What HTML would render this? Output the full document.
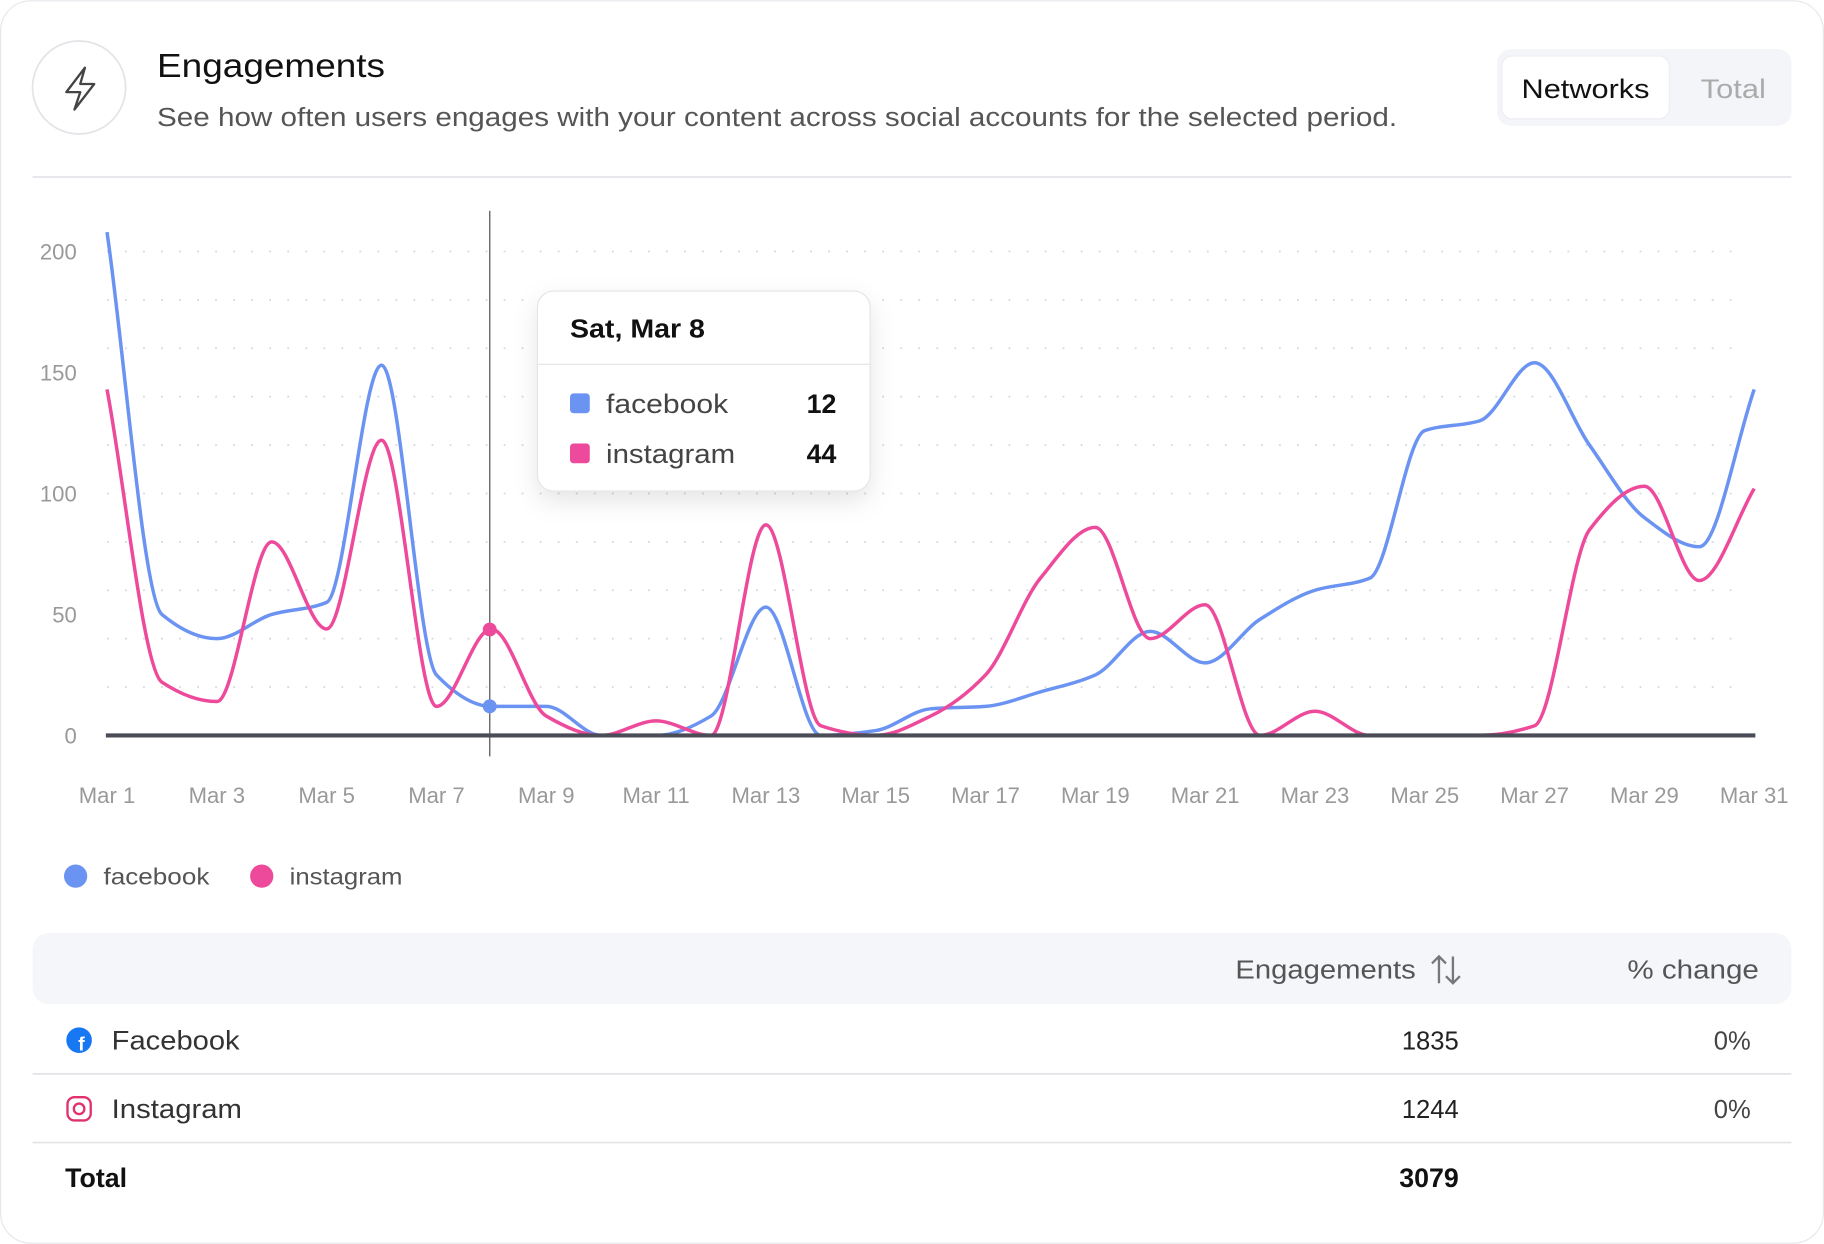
<!DOCTYPE html>
<html><head><meta charset="utf-8"><style>
html,body{margin:0;padding:0;background:#fff;}
svg{display:block;font-family:"Liberation Sans",sans-serif;}
</style></head><body>
<svg id="s" width="1824" height="1244" viewBox="0 0 1568 1069" xmlns="http://www.w3.org/2000/svg">
<rect x="0.5" y="0.5" width="1567" height="1068" rx="26" fill="#fff" stroke="#e6e7eb"/>
<circle cx="68" cy="75" r="40" fill="#fff" stroke="#e3e4e8" stroke-width="1.5"/>
<path d="M73 58 L57 79 H69 L64 94 L81 72 H69 Z" fill="none" stroke="#444" stroke-width="2" stroke-linejoin="round"/>
<text x="135" y="66" font-size="29" fill="#111" textLength="196" lengthAdjust="spacingAndGlyphs">Engagements</text>
<text x="135" y="108" font-size="22" fill="#555" textLength="1066" lengthAdjust="spacingAndGlyphs">See how often users engages with your content across social accounts for the selected period.</text>
<rect x="1287" y="42" width="253" height="66" rx="12" fill="#f4f5f8"/>
<rect x="1291" y="48" width="144" height="54" rx="9" fill="#fff" stroke="#eceef2"/>
<text x="1308" y="84" font-size="23" fill="#111" textLength="110" lengthAdjust="spacingAndGlyphs">Networks</text>
<text x="1462" y="84" font-size="23" fill="#aaa" textLength="56" lengthAdjust="spacingAndGlyphs">Total</text>
<line x1="28" y1="152" x2="1540" y2="152" stroke="#e3e4e8" stroke-width="1.5"/>
<g id="grid"></g>
<g font-size="19" fill="#999" text-anchor="end">
<text x="66" y="223">200</text><text x="66" y="327">150</text><text x="66" y="431">100</text><text x="66" y="535">50</text><text x="66" y="639">0</text>
</g>
<g id="xl" font-size="19" fill="#999" text-anchor="middle"></g>
<line x1="421" y1="181" x2="421" y2="650" stroke="#666" stroke-width="1.2"/>
<path id="fb" fill="none" stroke="#6b93f2" stroke-width="3"/>
<path id="ig" fill="none" stroke="#ee4a9b" stroke-width="3"/>
<line x1="91" y1="632" x2="1509" y2="632" stroke="#4a4d57" stroke-width="3.5"/>
<circle cx="421" cy="607" r="6" fill="#6b93f2"/>
<circle cx="421" cy="541" r="6" fill="#ee4a9b"/>
<defs><filter id="sh" x="-20%" y="-20%" width="140%" height="150%"><feDropShadow dx="0" dy="8" stdDeviation="10" flood-opacity="0.1"/></filter></defs>
<rect x="462" y="250" width="286" height="172" rx="14" fill="#fff" stroke="#e3e4e8" filter="url(#sh)"/>
<line x1="462" y1="313" x2="748" y2="313" stroke="#e3e4e8"/>
<text x="490" y="290" font-size="22" font-weight="bold" fill="#111" textLength="116" lengthAdjust="spacingAndGlyphs">Sat, Mar 8</text>
<rect x="490" y="338" width="17" height="17" rx="3" fill="#6b93f2"/>
<text x="521" y="355" font-size="23" fill="#444" textLength="105" lengthAdjust="spacingAndGlyphs">facebook</text>
<text x="719" y="355" font-size="23" font-weight="bold" fill="#111" text-anchor="end">12</text>
<rect x="490" y="381" width="17" height="17" rx="3" fill="#ee4a9b"/>
<text x="521" y="398" font-size="23" fill="#444" textLength="111" lengthAdjust="spacingAndGlyphs">instagram</text>
<text x="719" y="398" font-size="23" font-weight="bold" fill="#111" text-anchor="end">44</text>
<circle cx="65" cy="753" r="10" fill="#6b93f2"/>
<text x="89" y="760" font-size="20" fill="#555" textLength="91" lengthAdjust="spacingAndGlyphs">facebook</text>
<circle cx="225" cy="753" r="10" fill="#ee4a9b"/>
<text x="249" y="760" font-size="20" fill="#555" textLength="97" lengthAdjust="spacingAndGlyphs">instagram</text>
<rect x="28" y="802" width="1512" height="61" rx="14" fill="#f5f6fa"/>
<text x="1062" y="841" font-size="22" fill="#555" textLength="155" lengthAdjust="spacingAndGlyphs">Engagements</text>
<path d="M1237 822 V845 M1231 828 L1237 822 L1243 828 M1249 822 V845 M1243 839 L1249 845 L1255 839" fill="none" stroke="#777" stroke-width="2"/>
<text x="1399" y="841" font-size="22" fill="#555" textLength="113" lengthAdjust="spacingAndGlyphs">% change</text>
<circle cx="68" cy="894" r="11" fill="#1877f2"/>
<text x="70" y="903" font-size="17" font-weight="bold" fill="#fff" text-anchor="middle">f</text>
<text x="96" y="902" font-size="23" fill="#333" textLength="110" lengthAdjust="spacingAndGlyphs">Facebook</text>
<text x="1254" y="902" font-size="22" fill="#222" text-anchor="end">1835</text>
<text x="1505" y="902" font-size="22" fill="#444" text-anchor="end">0%</text>
<line x1="28" y1="923" x2="1540" y2="923" stroke="#e3e4e8" stroke-width="1.5"/>
<rect x="58" y="943" width="20" height="20" rx="6" fill="none" stroke="#e1306c" stroke-width="2"/>
<circle cx="68" cy="953" r="4.5" fill="none" stroke="#e1306c" stroke-width="2"/>
<text x="96" y="961" font-size="23" fill="#333" textLength="112" lengthAdjust="spacingAndGlyphs">Instagram</text>
<text x="1254" y="961" font-size="22" fill="#222" text-anchor="end">1244</text>
<text x="1505" y="961" font-size="22" fill="#444" text-anchor="end">0%</text>
<line x1="28" y1="982" x2="1540" y2="982" stroke="#e3e4e8" stroke-width="1.5"/>
<text x="56" y="1020" font-size="23" font-weight="bold" fill="#111">Total</text>
<text x="1254" y="1020" font-size="23" font-weight="bold" fill="#111" text-anchor="end">3079</text>
</svg>
<script>
var NS="http://www.w3.org/2000/svg";
function X(i){return 92+i*47.2;} function Y(v){return 632-v*2.08;}
var g=document.getElementById("grid");
for(var v=20;v<=200;v+=20){var l=document.createElementNS(NS,"line");l.setAttribute("x1",92);l.setAttribute("x2",1500);l.setAttribute("y1",Y(v));l.setAttribute("y2",Y(v));l.setAttribute("stroke","#d4d6dc");l.setAttribute("stroke-width","1.5");l.setAttribute("stroke-dasharray","1.5 14");g.appendChild(l);}
var xl=document.getElementById("xl");
for(var d=1;d<=31;d+=2){var t=document.createElementNS(NS,"text");t.setAttribute("x",X(d-1));t.setAttribute("y",690);t.textContent="Mar "+d;xl.appendChild(t);}
var fb=[208,50,40,50,55,153,25,12,12,0,0,8,53,0,2,11,12,18,25,43,30,48,60,65,126,130,154,120,90,78,143];
var ig=[143,22,14,80,44,122,12,44,8,0,6,0,87,4,0,8,25,65,86,40,54,0,10,0,0,0,4,85,103,64,102];
function path(d){var n=d.length,p=d.map(function(v,i){return[X(i),Y(v)]});var dx=47.2,s=[],m=[];
for(var i=0;i<n-1;i++)s.push((p[i+1][1]-p[i][1])/dx);
for(var i=0;i<n;i++){if(i==0)m.push(s[0]);else if(i==n-1)m.push(s[n-2]);else{if(s[i-1]*s[i]<=0)m.push(0);else m.push(2/(1/s[i-1]+1/s[i]));}}
var r="M"+p[0][0]+" "+p[0][1];
for(var i=0;i<n-1;i++){r+=" C"+(p[i][0]+dx/3)+" "+(p[i][1]+m[i]*dx/3)+" "+(p[i+1][0]-dx/3)+" "+(p[i+1][1]-m[i+1]*dx/3)+" "+p[i+1][0]+" "+p[i+1][1];}
return r;}
document.getElementById("fb").setAttribute("d",path(fb));
document.getElementById("ig").setAttribute("d",path(ig));
</script>
</body></html>
